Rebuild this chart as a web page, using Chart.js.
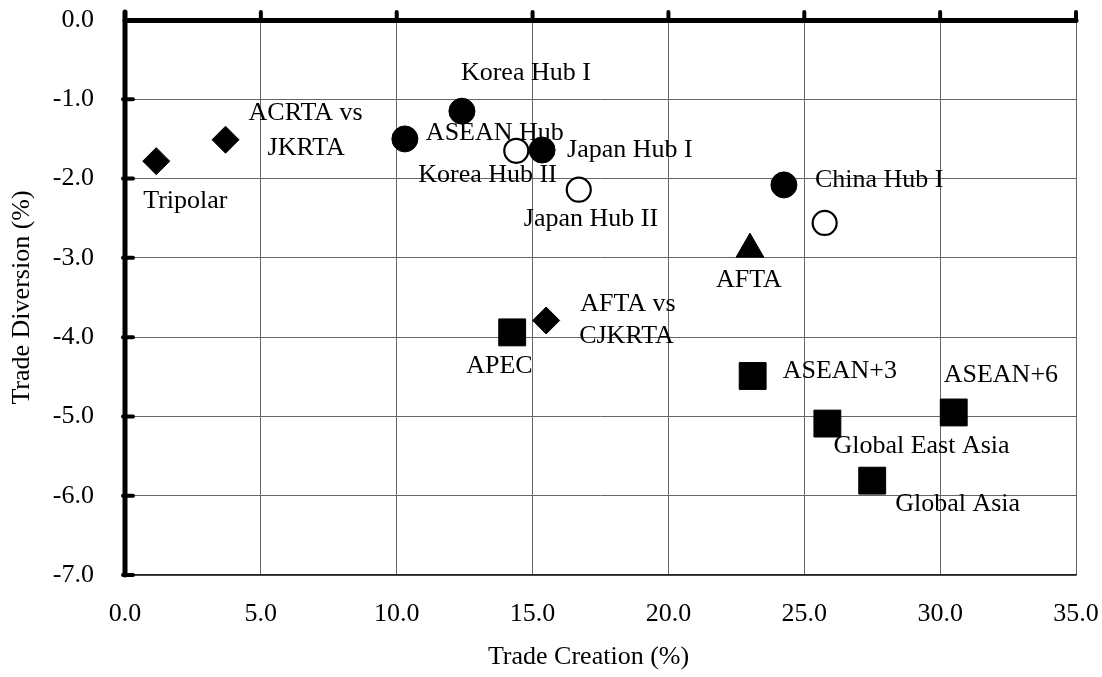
<!DOCTYPE html>
<html>
<head>
<meta charset="utf-8">
<script src="https://cdn.jsdelivr.net/npm/chart.js@4.4.0/dist/chart.umd.min.js"></script>
<style>
    html, body { margin: 0; padding: 0; background: #fff; }
</style>
</head>
<body>
<canvas id="tradeChart" width="1102" height="677"></canvas>
<script>
// axis ranges / ticks
const xTicks = [0, 5, 10, 15, 20, 25, 30, 35];
const yTicks = [0, -1, -2, -3, -4, -5, -6, -7];

// hub scenarios (type I) - filled circles
const hubNames = ['ASEAN Hub', 'Korea Hub I', 'Japan Hub I', 'China Hub I'];
const hubX = [10.3, 12.4, 15.35, 24.25];
const hubY = [-1.5, -1.15, -1.64, -2.08];

// hub scenarios (type II) - open circles
const hub2Names = ['Korea Hub II', 'Japan Hub II', ''];
const hub2X = [14.4, 16.7, 25.75];
const hub2Y = [-1.65, -2.14, -2.56];

// bloc vs bloc - diamonds
const blocNames = ['Tripolar', 'ACRTA vs\nJKRTA', 'AFTA vs\nCJKRTA'];
const blocX = [1.15, 3.7, 15.5];
const blocY = [-1.78, -1.51, -3.79];

// AFTA - triangle
const aftaNames = ['AFTA'];
const aftaX = [23.0];
const aftaY = [-2.89];

// regional FTAs - squares
const regionNames = ['APEC', 'ASEAN+3', 'ASEAN+6', 'Global East Asia', 'Global Asia'];
const regionX = [14.25, 23.1, 30.5, 25.85, 27.5];
const regionY = [-3.94, -4.49, -4.95, -5.09, -5.81];

function toPoints(xs, ys) {
    const pts = [];
    for (let i = 0; i < xs.length; i++) {
        pts.push({ x: xs[i], y: ys[i] });
    }
    return pts;
}

const FONT = "'Liberation Serif', 'Times New Roman', serif";

// label placement: [dx, dy] of each line's left edge / middle, relative to the point
const labelOffsets = {
    'ASEAN Hub': [[21, -6]],
    'Korea Hub I': [[-1, -38]],
    'Japan Hub I': [[25, 0]],
    'China Hub I': [[31, -5]],
    'Korea Hub II': [[-98, 24]],
    'Japan Hub II': [[-55, 30]],
    'Tripolar': [[-13, 40]],
    'ACRTA vs\nJKRTA': [[23, -27], [42, 8]],
    'AFTA vs\nCJKRTA': [[34, -16], [33, 16]],
    'AFTA': [[-34, 31]],
    'APEC': [[-46, 34]],
    'ASEAN+3': [[30, -5]],
    'ASEAN+6': [[-10, -37]],
    'Global East Asia': [[6, 23]],
    'Global Asia': [[23, 24]]
};

const pointLabels = {
    id: 'pointLabels',
    afterDatasetsDraw(chart) {
        const ctx = chart.ctx;
        ctx.save();
        ctx.font = '26px ' + FONT;
        ctx.fillStyle = '#000';
        ctx.textAlign = 'left';
        ctx.textBaseline = 'middle';
        chart.data.datasets.forEach(function (ds, di) {
            const meta = chart.getDatasetMeta(di);
            ds.names.forEach(function (name, i) {
                if (!name) return;
                const el = meta.data[i];
                const lines = name.split('\n');
                const offs = labelOffsets[name] || [[20, 0]];
                lines.forEach(function (line, li) {
                    const o = offs[li] || offs[0];
                    ctx.fillText(line, el.x + o[0], el.y + o[1]);
                });
            });
        });
        ctx.restore();
    }
};

const axisFrame = {
    id: 'axisFrame',
    afterDraw(chart) {
        const ctx = chart.ctx;
        const a = chart.chartArea;
        const xs = chart.scales.x;
        const ys = chart.scales.y;
        ctx.save();
        ctx.strokeStyle = '#000';
        ctx.lineCap = 'round';

        // thick left axis + top axis (y = 0)
        ctx.lineWidth = 5;
        ctx.beginPath();
        ctx.moveTo(a.left, a.top - 8);
        ctx.lineTo(a.left, a.bottom);
        ctx.stroke();
        ctx.beginPath();
        ctx.moveTo(a.left, a.top + 0.5);
        ctx.lineTo(a.right, a.top + 0.5);
        ctx.stroke();

        // tick marks
        ctx.lineWidth = 4;
        xTicks.forEach(function (v) {
            if (v === 0) return;
            const px = xs.getPixelForValue(v);
            ctx.beginPath();
            ctx.moveTo(px, a.top - 8);
            ctx.lineTo(px, a.top);
            ctx.stroke();
        });
        yTicks.forEach(function (v) {
            if (v === 0) return;
            const py = ys.getPixelForValue(v);
            ctx.beginPath();
            ctx.moveTo(a.left - 2, py);
            ctx.lineTo(a.left + 8, py);
            ctx.stroke();
        });

        // axis titles
        ctx.fillStyle = '#000';
        ctx.font = '26px ' + FONT;
        ctx.textAlign = 'center';
        ctx.textBaseline = 'middle';
        ctx.fillText('Trade Creation (%)', (a.left + a.right) / 2 - 12, 657);
        ctx.translate(22, (a.top + a.bottom) / 2);
        ctx.rotate(-Math.PI / 2);
        ctx.fillText('Trade Diversion (%)', 0, 0);
        ctx.restore();
    }
};

function noPad(scale) {
    scale.paddingLeft = 0;
    scale.paddingRight = 0;
    scale.paddingTop = 0;
    scale.paddingBottom = 0;
}

const ctx = document.getElementById('tradeChart').getContext('2d');

new Chart(ctx, {
    type: 'scatter',
    data: {
        datasets: [{
            names: hubNames,
            data: toPoints(hubX, hubY),
            pointStyle: 'circle',
            pointRadius: 13,
            backgroundColor: '#000',
            borderColor: '#000',
            borderWidth: 1
        }, {
            names: hub2Names,
            data: toPoints(hub2X, hub2Y),
            pointStyle: 'circle',
            pointRadius: 12,
            backgroundColor: '#fff',
            borderColor: '#000',
            borderWidth: 2.2
        }, {
            names: blocNames,
            data: toPoints(blocX, blocY),
            pointStyle: 'rectRot',
            pointRadius: 13.5,
            backgroundColor: '#000',
            borderColor: '#000',
            borderWidth: 1
        }, {
            names: aftaNames,
            data: toPoints(aftaX, aftaY),
            pointStyle: 'triangle',
            pointRadius: 16,
            backgroundColor: '#000',
            borderColor: '#000',
            borderWidth: 1
        }, {
            names: regionNames,
            data: toPoints(regionX, regionY),
            pointStyle: 'rect',
            pointRadius: 19,
            backgroundColor: '#000',
            borderColor: '#000',
            borderWidth: 1
        }]
    },
    options: {
        responsive: false,
        devicePixelRatio: 1,
        animation: false,
        events: [],
        layout: { padding: { top: 16, right: 26, left: 0, bottom: 0 } },
        plugins: {
            legend: { display: false },
            tooltip: { enabled: false }
        },
        scales: {
            x: {
                type: 'linear',
                min: 0,
                max: 35,
                afterFit: function (scale) { scale.height = 102; noPad(scale); },
                afterBuildTicks: function (scale) {
                    scale.ticks = xTicks.map(function (v) { return { value: v }; });
                },
                ticks: {
                    callback: function (v) { return v.toFixed(1); },
                    font: { family: FONT, size: 26 },
                    color: '#000',
                    padding: 24,
                    maxRotation: 0
                },
                grid: { color: '#666', lineWidth: 1, drawTicks: false },
                border: { display: true, color: '#222', width: 1.5 }
            },
            y: {
                type: 'linear',
                min: -7,
                max: 0,
                afterFit: function (scale) { scale.width = 125; noPad(scale); },
                afterBuildTicks: function (scale) {
                    scale.ticks = yTicks.map(function (v) { return { value: v }; });
                },
                ticks: {
                    callback: function (v) { return v.toFixed(1); },
                    font: { family: FONT, size: 26 },
                    color: '#000',
                    padding: 31
                },
                grid: { color: '#666', lineWidth: 1, drawTicks: false },
                border: { display: false }
            }
        }
    },
    plugins: [pointLabels, axisFrame]
});
</script>
</body>
</html>
